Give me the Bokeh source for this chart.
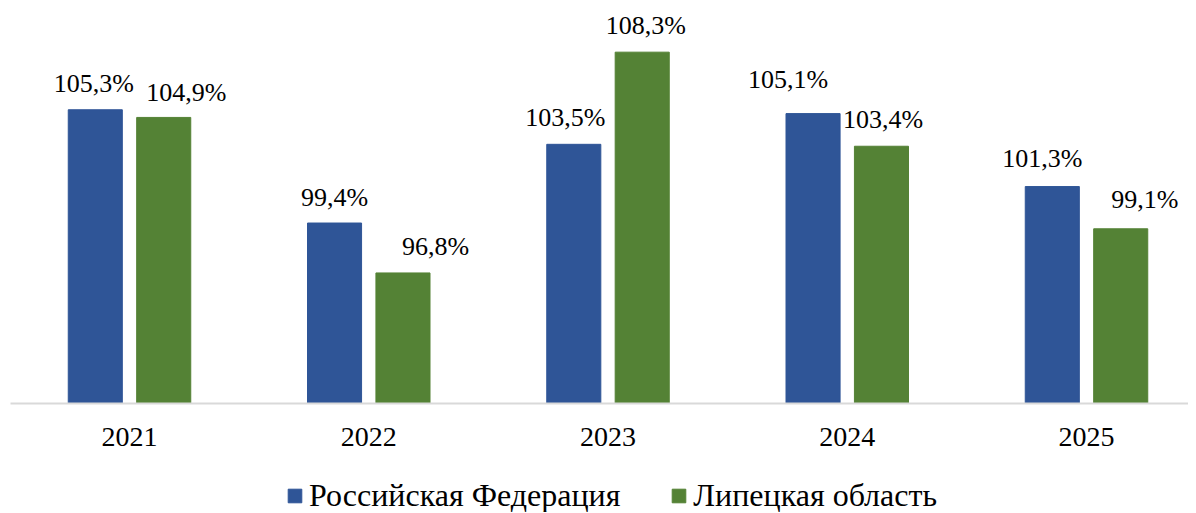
from bokeh.plotting import figure
from bokeh.models import ColumnDataSource, Range1d, FixedTicker, Legend, LegendItem
from bokeh.layouts import column
from bokeh.embed import file_html
from bokeh.resources import INLINE
from bokeh.core.properties import value

years = ["2021", "2022", "2023", "2024", "2025"]
rf_values = [105.3, 99.4, 103.5, 105.1, 101.3]
lip_values = [104.9, 96.8, 108.3, 103.4, 99.1]
series_names = ["Российская Федерация", "Липецкая область"]

# label placement (pixels): horizontal shift and gap above the bar
rf_label_dx = [-1.5, 0, -8.5, -25, -10]
rf_label_gap = [16.6, 16, 17, 25, 18.6]
lip_label_dx = [22.5, 32.5, 3.5, 1.5, 24]
lip_label_gap = [15.6, 17, 17.5, 17.8, 20]

BLUE = "#2F5597"
GREEN = "#548235"
FONT = "Liberation Serif"
Y0 = 90.0

def fmt(v):
    return ("%.1f" % v).replace(".", ",") + "%"

idx = list(range(len(years)))
off = 0.143
w = 0.226

src_rf = ColumnDataSource(dict(x=[i - off for i in idx], top=rf_values,
                               lab=[fmt(v) for v in rf_values],
                               dx=rf_label_dx, dy=[-(g + 9.4) for g in rf_label_gap]))
src_lip = ColumnDataSource(dict(x=[i + off for i in idx], top=lip_values,
                                lab=[fmt(v) for v in lip_values],
                                dx=lip_label_dx, dy=[-(g + 9.4) for g in lip_label_gap]))

p = figure(width=1188, height=455, output_backend="svg", toolbar_location=None,
           x_range=Range1d(-0.4974, 4.4263), y_range=Range1d(Y0, 110.47),
           min_border_left=10, min_border_right=0, min_border_top=10, min_border_bottom=52)

p.vbar(x="x", top="top", bottom=Y0, width=w, source=src_rf, color=BLUE)
p.vbar(x="x", top="top", bottom=Y0, width=w, source=src_lip, color=GREEN)

for s in (src_rf, src_lip):
    p.text(x="x", y="top", text="lab", source=s, text_align="center",
           text_baseline="alphabetic", x_offset="dx", y_offset="dy",
           text_font=value(FONT), text_font_size="26px", text_color="black")

p.yaxis.visible = False
p.xgrid.visible = False
p.ygrid.visible = False
p.outline_line_color = None

xa = p.xaxis[0]
xa.ticker = FixedTicker(ticks=idx)
xa.major_label_overrides = {i: y for i, y in zip(idx, years)}
xa.major_tick_line_color = None
xa.minor_tick_line_color = None
xa.axis_line_color = "#D9D9D9"
xa.axis_line_width = 2
xa.major_label_text_font = FONT
xa.major_label_text_font_size = "28px"
xa.major_label_text_color = "black"
xa.major_label_standoff = 18

# legend strip (series renderers lie far outside its x range; only the legend shows)
lg = figure(width=1188, height=57, output_backend="svg", toolbar_location=None,
            x_range=Range1d(-100, -99), y_range=Range1d(Y0, 110.47),
            min_border_left=0, min_border_right=0, min_border_top=0, min_border_bottom=0)
lg.axis.visible = False
lg.grid.visible = False
lg.outline_line_color = None
g1 = lg.vbar(x="x", top="top", bottom=Y0, width=w, source=src_rf, color=BLUE)
g2 = lg.vbar(x="x", top="top", bottom=Y0, width=w, source=src_lip, color=GREEN)
legend = Legend(items=[LegendItem(label=series_names[0], renderers=[g1]),
                       LegendItem(label=series_names[1], renderers=[g2])],
                orientation="horizontal", location=(276, -2),
                label_text_font=FONT, label_text_font_size="32px",
                label_text_color="black", label_height=17,
                glyph_width=17, glyph_height=17, label_standoff=6, spacing=50,
                border_line_color=None, background_fill_alpha=0, padding=0, margin=0)
lg.add_layout(legend, "center")

layout = column(p, lg, spacing=0)
open("out.html", "w").write(file_html(layout, INLINE))
